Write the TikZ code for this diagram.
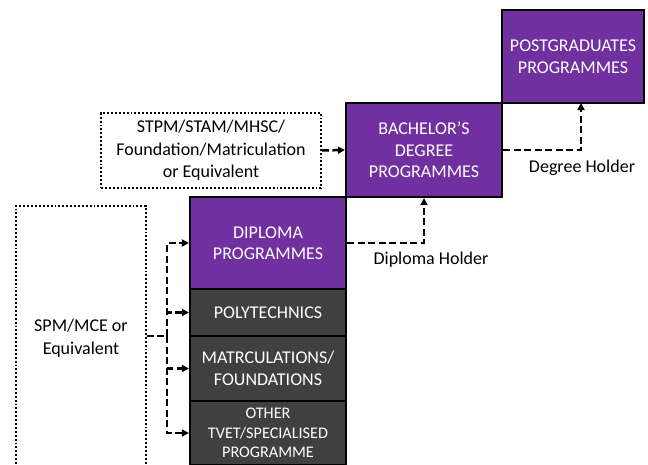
\documentclass[tikz,border=0pt]{standalone}
\usepackage{fontspec}
\setmainfont{Carlito}
\usetikzlibrary{arrows.meta}
\definecolor{progpurple}{RGB}{112,48,160}
\definecolor{progdark}{RGB}{64,64,64}
\begin{document}
\begin{tikzpicture}[x=1pt,y=-1pt,
  prog/.style={draw=black,line width=2.2pt,fill=progpurple,text=white,
    align=center,inner sep=0pt,font=\fontsize{18}{21.5}\selectfont},
  route/.style={draw=black,line width=2.2pt,fill=progdark,text=white,
    align=center,inner sep=0pt,font=\fontsize{18}{21.5}\selectfont},
  entry/.style={draw=black,line width=1.9pt,dotted,align=center,inner sep=0pt,
    font=\fontsize{18}{22.5}\selectfont},
  path/.style={draw=black,line width=2.5pt,dash pattern=on 7pt off 3.5pt,
    -{Triangle[length=7pt,width=7pt]}},
  caption/.style={font=\fontsize{18}{21}\selectfont}]
\useasboundingbox (0,0) rectangle (648,464);
\begin{scope}
\clip (0,0) rectangle (648,464);
% entry qualifications
\node[entry,minimum width=130pt,minimum height=264pt] (spm) at (81,338) {SPM/MCE or\\Equivalent};
\node[entry,minimum width=220pt,minimum height=75pt] (stpm) at (211,150.5) {STPM/STAM/MHSC/\\Foundation/Matriculation\\or Equivalent};
% programme staircase
\node[route,minimum width=156pt,minimum height=64pt,font=\fontsize{16.2}{19.5}\selectfont]
  (other) at (268,433) {OTHER\\TVET/SPECIALISED\\PROGRAMME};
\node[route,minimum width=156pt,minimum height=65pt] (matric) at (268,368.5) {MATRCULATIONS/\\FOUNDATIONS};
\node[route,minimum width=156pt,minimum height=47pt] (poly) at (268,312.5) {POLYTECHNICS};
\node[prog,minimum width=156pt,minimum height=92pt] (dip) at (268,243) {DIPLOMA\\PROGRAMMES};
\node[prog,minimum width=156pt,minimum height=94pt] (bach) at (424,150) {BACHELOR'S\\DEGREE\\PROGRAMMES};
\node[prog,minimum width=142pt,minimum height=93pt] (pg) at (573,56.5) {POSTGRADUATES\\PROGRAMMES};
\end{scope}
% routes from SPM
\coordinate (fork) at (167,336);
\draw[path,-] (spm.east |- fork) -- (fork);
\draw[path] (fork) |- (dip.west);
\draw[path] (fork) |- (poly.west);
\draw[path] (fork) |- (matric.west);
\draw[path] (fork) |- (other.west);
% route from STPM
\draw[path] (stpm.east) -- (bach.west);
% progression
\draw[path] (dip.east) -| (bach.south);
\coordinate (pgin) at (581,103);
\draw[path] (bach.east) -| (pgin);
\node[caption] (dh) at (431,260) {Diploma Holder};
\node[caption] (gh) at (582,168) {Degree Holder};
\end{tikzpicture}
\end{document}
